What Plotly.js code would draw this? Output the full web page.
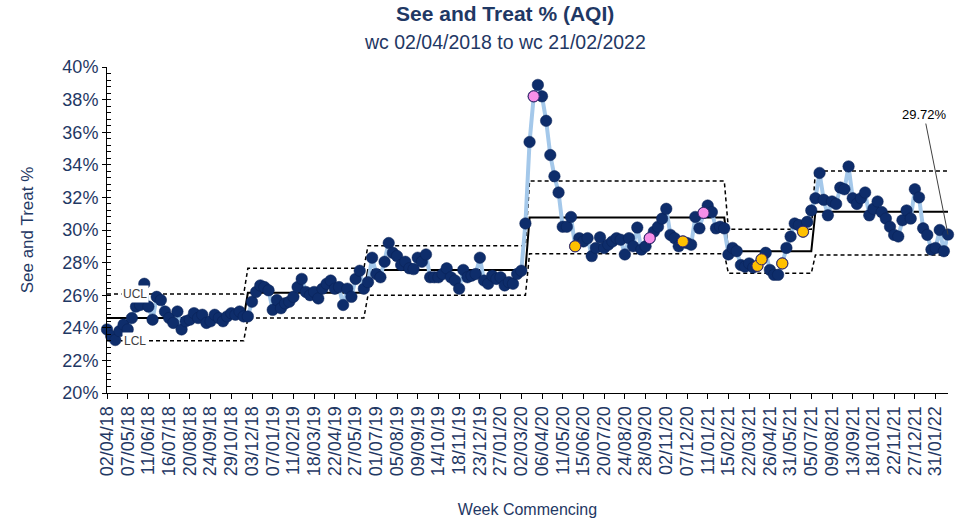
<!DOCTYPE html>
<html>
<head>
<meta charset="utf-8">
<script src="https://cdn.plot.ly/plotly-3.0.1.min.js"></script>
<style>html,body{margin:0;padding:0;background:#fff;}#chart{width:956px;height:521px;}</style>
</head>
<body>
<div id="chart"></div>
<script>
// Tick labels (every 5th week, week commencing)
var tickLabels = ["02/04/18","07/05/18","11/06/18","16/07/18","20/08/18","24/09/18","29/10/18","03/12/18","07/01/19","11/02/19","18/03/19","22/04/19","27/05/19","01/07/19","05/08/19","09/09/19","14/10/19","18/11/19","23/12/19","27/01/20","02/03/20","06/04/20","11/05/20","15/06/20","20/07/20","24/08/20","28/09/20","02/11/20","07/12/20","11/01/21","15/02/21","22/03/21","26/04/21","31/05/21","05/07/21","09/08/21","13/09/21","18/10/21","22/11/21","27/12/21","31/01/22"];

// Weekly See and Treat % values (02/04/2018 .. 21/02/2022)
var seeTreat = [
 23.9,23.5,23.25,23.8,24.2,23.9,24.6,25.3,25.4,26.7,25.3,24.5,25.9,25.7,25.0,24.6,24.3,25.0,23.9,24.4,
 24.5,24.9,24.6,24.8,24.3,24.4,24.8,24.6,24.4,24.7,24.9,24.8,25.0,24.7,
 24.7,25.6,26.2,26.6,26.5,26.3,25.1,25.7,25.2,25.5,25.6,25.9,26.5,27.0,26.2,26.0,26.2,25.8,26.4,26.7,
 26.9,26.4,26.5,25.4,26.4,25.9,27.0,27.5,26.4,
 26.8,28.3,27.3,27.1,28.05,29.2,28.6,28.4,27.85,28.05,27.65,27.6,28.3,28.05,28.5,27.1,27.1,27.1,27.3,27.65,
 27.1,26.9,26.4,27.55,27.1,27.2,27.3,28.3,26.9,26.7,27.2,27.0,27.1,26.6,26.8,26.7,27.3,27.5,30.4,
 35.4,38.2,38.9,38.2,36.7,34.6,33.3,32.3,30.2,30.2,30.8,29.0,29.5,29.3,29.5,28.4,28.9,29.55,28.9,29.1,
 29.3,29.5,29.4,28.5,29.5,29.0,30.15,28.8,29.0,29.5,29.9,30.2,30.7,31.3,29.7,29.5,29.0,29.3,29.2,29.1,
 30.8,30.1,31.05,31.5,31.1,30.1,30.2,30.1,
 28.5,28.9,28.7,27.85,27.75,27.95,27.7,27.8,28.2,28.6,27.55,27.25,27.25,27.95,28.9,29.6,30.4,30.3,29.9,30.5,31.2,
 31.95,33.5,31.85,30.9,31.75,31.6,32.6,32.5,33.9,31.95,31.6,31.95,32.3,30.9,31.3,31.75,31.1,30.7,30.2,29.7,
 29.6,30.6,31.2,30.7,32.5,32.0,30.1,29.7,28.8,28.9,30.0,28.7,29.72
];

// Special-cause points (week index)
var pinkWeeks = [103,131,144];
var orangeWeeks = [113,139,157,158,163,168];

// Control-chart phases
var phaseStart = [0,34,63,102,150,171];
var phaseMean  = [24.6,26.15,27.55,30.76,28.7,31.12];
var phaseUCL   = [26.07,27.65,29.04,33.0,30.04,33.62];
var phaseLCL   = [23.2,24.6,26.0,28.55,27.34,28.47];

var weeks = seeTreat.map(function(v,i){return i;});
function phaseOf(i){var p=0;for(var k=0;k<phaseStart.length;k++){if(i>=phaseStart[k])p=k;}return p;}
var meanLine = weeks.map(function(i){return phaseMean[phaseOf(i)];});
var uclLine  = weeks.map(function(i){return phaseUCL[phaseOf(i)];});
var lclLine  = weeks.map(function(i){return phaseLCL[phaseOf(i)];});

var navy = '#0E2D6B';
var textBlue = '#1F3864';
var font = 'Liberation Sans, Arial, sans-serif';

var traces = [
 {x:weeks,y:uclLine,mode:'lines',line:{color:'#000',width:1.5,dash:'4px,3px'},hoverinfo:'skip'},
 {x:weeks,y:lclLine,mode:'lines',line:{color:'#000',width:1.5,dash:'4px,3px'},hoverinfo:'skip'},
 {x:weeks,y:meanLine,mode:'lines',line:{color:'#000',width:2},hoverinfo:'skip'},
 {x:weeks,y:seeTreat,mode:'lines+markers',line:{color:'#A4C8EA',width:4},
  marker:{color:navy,size:11.5,line:{color:'#0A2357',width:0.5}},cliponaxis:false},
 {x:pinkWeeks,y:pinkWeeks.map(function(i){return seeTreat[i];}),mode:'markers',
  marker:{color:'#F78FE8',size:11,line:{color:'#3B2A70',width:1}},cliponaxis:false},
 {x:orangeWeeks,y:orangeWeeks.map(function(i){return seeTreat[i];}),mode:'markers',
  marker:{color:'#FFC000',size:11,line:{color:'#3B2A70',width:1}},cliponaxis:false},
 {x:[0],y:[20],yaxis:'y2',mode:'markers',marker:{opacity:0},hoverinfo:'skip'}
];

var layout = {
 width:956,height:521,
 margin:{l:107,r:8,t:67,b:128},
 paper_bgcolor:'#fff',plot_bgcolor:'#fff',
 showlegend:false,
 font:{family:font,color:textBlue},
 xaxis:{range:[0,203],tickvals:tickLabels.map(function(t,k){return k*5;}),ticktext:tickLabels,
   tickangle:-90,tickfont:{size:18,color:textBlue,family:font},
   showline:true,linecolor:'#000',linewidth:1,ticks:'outside',ticklen:5,tickcolor:'#000',
   showgrid:false,zeroline:false,
   title:{text:'Week Commencing',font:{size:16,color:textBlue,family:font},standoff:28}},
 yaxis:{range:[20,40],dtick:2,ticksuffix:'%',tickfont:{size:18,color:textBlue,family:font},
   ticklabelstandoff:4,
   showline:true,linecolor:'#000',linewidth:1,ticks:'inside',ticklen:4,tickcolor:'#000',
   minor:{dtick:0.4,ticks:'inside',ticklen:4,tickcolor:'#000'},
   showgrid:false,zeroline:false,
   title:{text:'See and Treat %',font:{size:17,color:textBlue,family:font},standoff:24}},
 yaxis2:{range:[20,40],dtick:2,overlaying:'y',side:'left',showticklabels:false,ticks:'outside',
   ticklen:4,tickcolor:'#000',showline:false,showgrid:false,zeroline:false},
 annotations:[
  {xref:'paper',yref:'paper',x:0.4733,y:1.1626,text:'<b>See and Treat % (AQI)</b>',showarrow:false,
   font:{size:21,color:textBlue,family:font},xanchor:'center',yanchor:'middle'},
  {xref:'paper',yref:'paper',x:0.4733,y:1.0767,text:'wc 02/04/2018 to wc 21/02/2022',showarrow:false,
   font:{size:19.5,color:textBlue,family:font},xanchor:'center',yanchor:'middle'},
  {x:6.7,y:phaseUCL[0],text:'UCL',showarrow:false,bgcolor:'#fff',font:{size:12,color:'#404040',family:font},borderpad:1},
  {x:6.7,y:phaseLCL[0],text:'LCL',showarrow:false,bgcolor:'#fff',font:{size:12,color:'#404040',family:font},borderpad:1},
  {x:203,y:seeTreat[203],text:seeTreat[203].toFixed(2)+'%',showarrow:true,arrowhead:0,arrowwidth:1,
   arrowcolor:'#404040',ax:-24,ay:-120,font:{size:13,color:'#000',family:font}}
 ]
};

Plotly.newPlot('chart',traces,layout,{displayModeBar:false,staticPlot:true});
</script>
</body>
</html>
